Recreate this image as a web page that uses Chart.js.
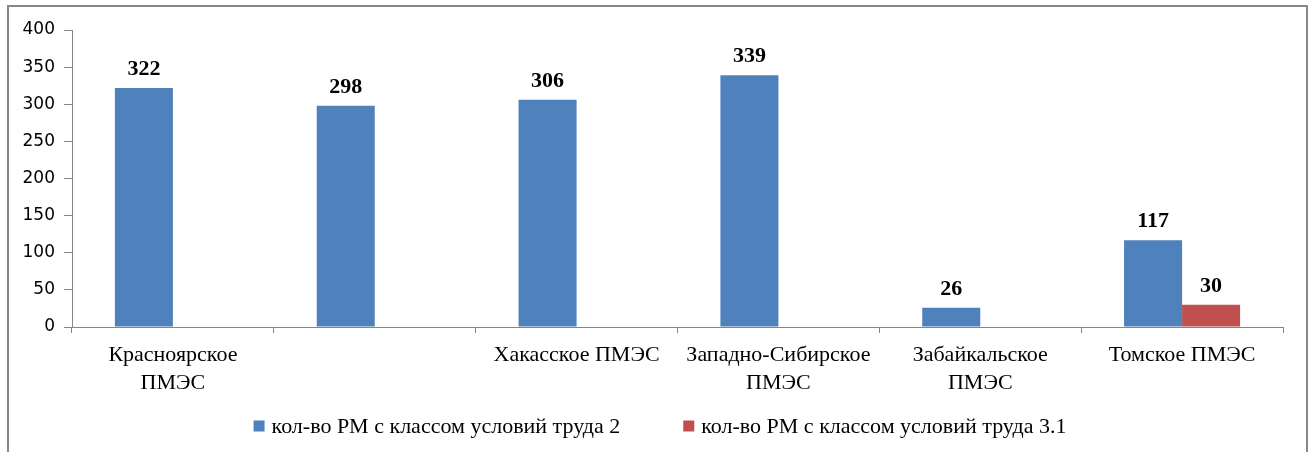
<!DOCTYPE html>
<html>
<head>
<meta charset="utf-8">
<script src="https://cdn.jsdelivr.net/npm/chart.js@4/dist/chart.umd.min.js"></script>
<style>
  html, body { margin: 0; padding: 0; background: #fff; }
  #wrap { position: relative; width: 1312px; height: 452px; overflow: hidden; }
  #frame { position: absolute; left: 7px; top: 5px; width: 1297px; height: 460px; border: 2px solid #878787; pointer-events: none; }
  canvas { position: absolute; left: 0; top: 0; }
</style>
</head>
<body>
<div id="wrap">
  <canvas id="c" width="1312" height="452"></canvas>
  <div id="frame"></div>
</div>
<script>
const categories = [
  ["Красноярское", "ПМЭС"],
  "",
  "Хакасское ПМЭС",
  ["Западно-Сибирское", "ПМЭС"],
  ["Забайкальское", "ПМЭС"],
  "Томское ПМЭС"
];
const seriesNames = [
  "кол-во РМ с классом условий труда 2",
  "кол-во РМ с классом условий труда 3.1"
];
const class2Values = [322, 298, 306, 339, 26, 117];
const class31Values = [null, null, null, null, null, 30];
const yTicks = [0, 50, 100, 150, 200, 250, 300, 350, 400];

const BLUE = "#4F81BD";
const RED = "#C0504D";
const AXIS = "#868686";
const SERIF = "'Liberation Serif', 'Times New Roman', serif";

const valueLabels = {
  id: "valueLabels",
  afterDatasetsDraw(chart) {
    const ctx = chart.ctx;
    ctx.save();
    ctx.font = "bold 22px " + SERIF;
    ctx.fillStyle = "#000";
    ctx.textAlign = "center";
    ctx.textBaseline = "alphabetic";
    chart.data.datasets.forEach((ds, i) => {
      const meta = chart.getDatasetMeta(i);
      meta.data.forEach((el, j) => {
        const v = ds.data[j];
        if (v === null || v === undefined) return;
        ctx.fillText(String(v), el.x, el.y - 13);
      });
    });
    ctx.restore();
  }
};

const customLegend = {
  id: "customLegend",
  afterDraw(chart) {
    const ctx = chart.ctx;
    ctx.save();
    ctx.font = "22px " + SERIF;
    ctx.textBaseline = "middle";
    ctx.textAlign = "left";
    const box = 11, gapBox = 7, gapItem = 63;
    const items = chart.data.datasets.map(ds => ({
      text: ds.label, color: ds.backgroundColor,
      w: box + gapBox + ctx.measureText(ds.label).width
    }));
    const total = items.reduce((s, it) => s + it.w, 0) + gapItem * (items.length - 1);
    let x = 660 - total / 2;
    const y = 426;
    items.forEach(it => {
      ctx.fillStyle = it.color;
      ctx.fillRect(x, y - box / 2, box, box);
      ctx.fillStyle = "#000";
      ctx.fillText(it.text, x + box + gapBox, y + 1);
      x += it.w + gapItem;
    });
    ctx.restore();
  }
};

new Chart(document.getElementById("c"), {
  type: "bar",
  data: {
    labels: categories,
    datasets: [
      { label: seriesNames[0], data: class2Values, backgroundColor: BLUE,
        categoryPercentage: 0.575, barPercentage: 1.0 },
      { label: seriesNames[1], data: class31Values, backgroundColor: RED,
        categoryPercentage: 0.575, barPercentage: 1.0 }
    ]
  },
  options: {
    responsive: false,
    animation: false,
    devicePixelRatio: 1,
    layout: { padding: { left: 0, right: 29, top: 30, bottom: 55 } },
    plugins: {
      legend: { display: false },
      tooltip: { enabled: false }
    },
    scales: {
      x: {
        grid: { offset: true, drawOnChartArea: false, drawTicks: true, tickLength: 6, color: AXIS, lineWidth: 1 },
        border: { color: AXIS, width: 1 },
        ticks: {
          color: "#000", font: { family: SERIF, size: 22, lineHeight: 1.27 },
          maxRotation: 0, minRotation: 0, autoSkip: false, padding: 8
        },
        afterFit(scale) { scale.height = 70; }
      },
      y: {
        min: 0, max: 400,
        afterBuildTicks(scale) { scale.ticks = yTicks.map(v => ({ value: v })); },
        grid: { drawOnChartArea: false, drawTicks: true, tickLength: 8, color: AXIS, lineWidth: 1 },
        border: { color: AXIS, width: 1 },
        ticks: {
          color: "#000", font: { family: "'DejaVu Sans', Verdana, sans-serif", size: 17 },
          padding: 9
        },
        afterFit(scale) { scale.width = 72; }
      }
    }
  },
  plugins: [valueLabels, customLegend]
});
</script>
</body>
</html>
